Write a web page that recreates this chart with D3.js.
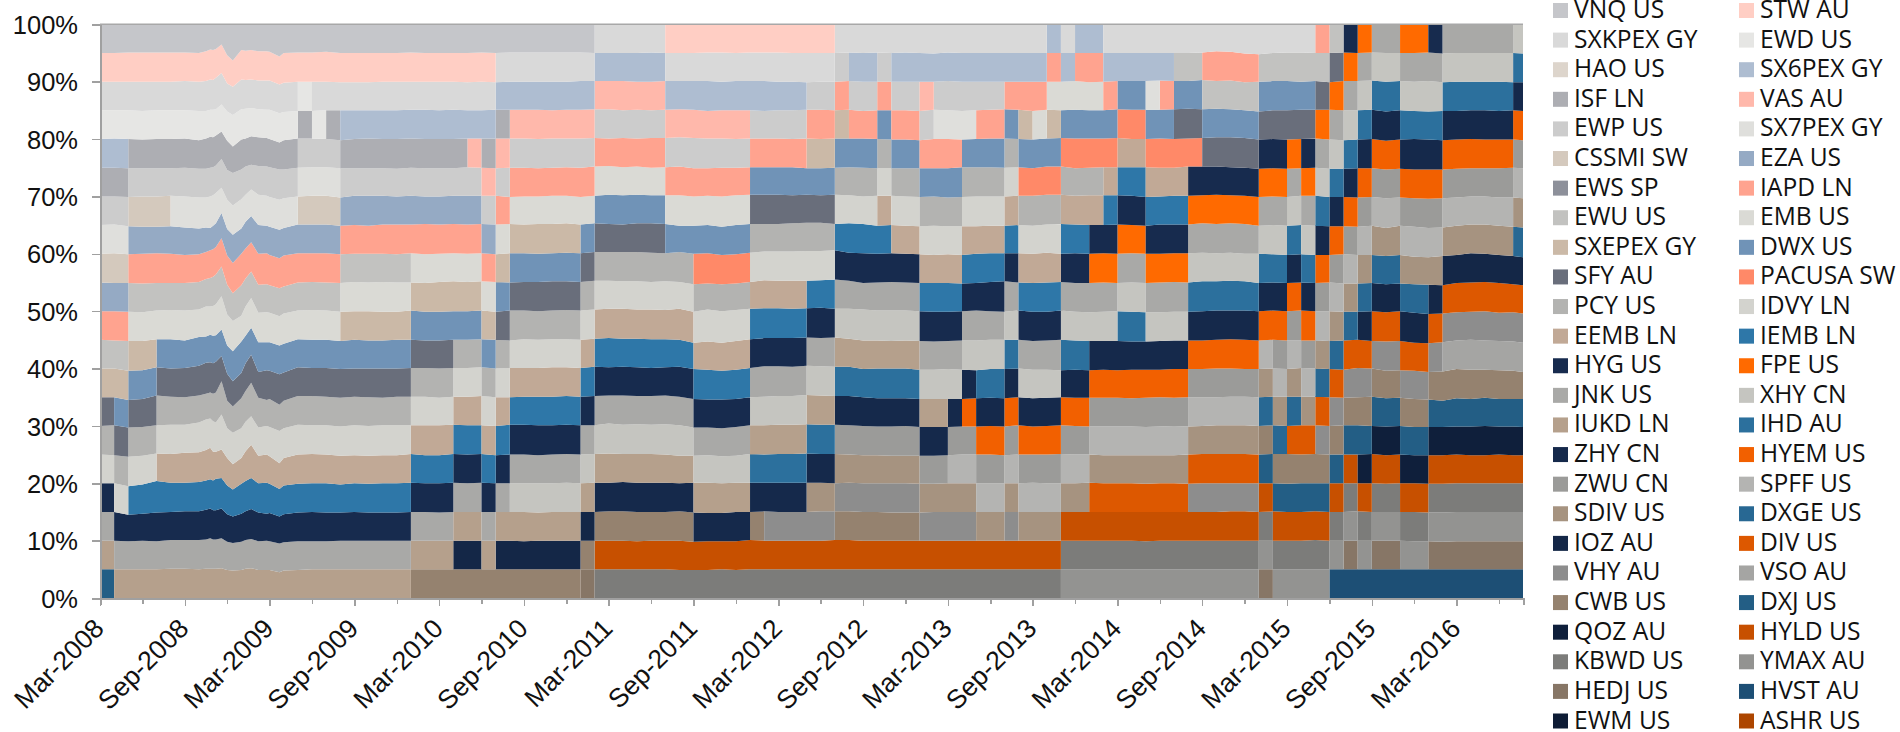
<!DOCTYPE html>
<html><head><meta charset="utf-8">
<script src="https://cdn.jsdelivr.net/npm/d3@7/dist/d3.min.js"></script>
<style>
html,body{margin:0;padding:0;background:#fff;overflow:hidden}
svg{display:block}
.ax text{font-family:"Liberation Sans",Arial,sans-serif;font-size:25.5px;fill:#111}
.ax path,.ax line{stroke:#a0a0a0;shape-rendering:crispEdges}
.lg{font-family:"Open Sans",sans-serif;font-size:24.6px;fill:#111}
</style></head><body>
<div id="c"></div>
<script>
// Legend order, read across rows; stack runs from ASHR (bottom) to VNQ (top)
const tickerNames=["VNQ US","STW AU","SXKPEX GY","EWD US","HAO US","SX6PEX GY","ISF LN","VAS AU","EWP US","SX7PEX GY","CSSMI SW","EZA US","EWS SP","IAPD LN","EWU US","EMB US","SXEPEX GY","DWX US","SFY AU","PACUSA SW","PCY US","IDVY LN","EEMB LN","IEMB LN","HYG US","FPE US","JNK US","XHY CN","IUKD LN","IHD AU","ZHY CN","HYEM US","ZWU CN","SPFF US","SDIV US","DXGE US","IOZ AU","DIV US","VHY AU","VSO AU","CWB US","DXJ US","QOZ AU","HYLD US","KBWD US","YMAX AU","HEDJ US","HVST AU","EWM US","ASHR US"];
const tickerColors=["#c5c6ca","#ffcec4","#d9d9d9","#e6e6e4","#ddd5cc","#aebdd1","#adaeb3","#ffb8ab","#cccccc","#dfdfdc","#d4c9bd","#95aac4","#8d909a","#ffa38f","#c2c2c0","#dadad5","#cbb9a7","#7093b7","#696e7b","#ff8968","#b3b3b1","#d3d3ce","#c1a996","#2e77a8","#172b4e","#ff6a00","#a9a9a7","#c5c5c0","#b5a08c","#2c709d","#15294b","#f26000","#9b9b99","#b4b4b2","#a69380","#286893","#142747","#dd5800","#8d8d8d","#a5a5a3","#95826f","#235e85","#0f1f3b","#c75000","#7c7c7a","#939391","#877666","#1d4f75","#0e1c35","#ad4600"];

// Month index (0 = Mar-2008) at which each monthly rebalance took effect
const rebalanceMonths=[0,1,2,4,5,14,15,16,17,22,25,26,27,28,29,34,35,40,42,46,47,50,52,53,55,56,58,59,60,61,62,64,65,66,67,68,69,70,71,72,74,75,76,77,78,82,83,84,85,86,87,88,89,90,92,94,95,100];
// The 20 funds held in each of those periods, top of the stack first
const holdings=[
"VNQ STW SXKPEX EWD SX6PEX ISF EWP SX7PEX CSSMI EZA IAPD EWU SXEPEX SFY PCY IDVY HYG JNK IUKD DXJ",
"VNQ STW SXKPEX EWD SX6PEX ISF EWP SX7PEX CSSMI EZA IAPD EWU SXEPEX DWX SFY PCY IDVY HYG JNK IUKD",
"VNQ STW SXKPEX EWD ISF EWP CSSMI EZA IAPD EWU EMB SXEPEX DWX SFY PCY IDVY IEMB HYG JNK IUKD",
"VNQ STW SXKPEX EWD ISF EWP CSSMI EZA IAPD EWU EMB DWX SFY PCY IDVY EEMB IEMB HYG JNK IUKD",
"VNQ STW SXKPEX EWD ISF EWP SX7PEX EZA IAPD EWU EMB DWX SFY PCY IDVY EEMB IEMB HYG JNK IUKD",
"VNQ STW EWD ISF EWP SX7PEX CSSMI EZA IAPD EWU EMB DWX SFY PCY IDVY EEMB IEMB HYG JNK IUKD",
"VNQ STW SXKPEX EWD EWP SX7PEX CSSMI EZA IAPD EWU EMB DWX SFY PCY IDVY EEMB IEMB HYG JNK IUKD",
"VNQ STW SXKPEX ISF EWP SX7PEX CSSMI EZA IAPD EWU EMB DWX SFY PCY IDVY EEMB IEMB HYG JNK IUKD",
"VNQ STW SXKPEX SX6PEX ISF EWP EZA IAPD EWU EMB SXEPEX DWX SFY PCY IDVY EEMB IEMB HYG JNK IUKD",
"VNQ STW SXKPEX SX6PEX ISF EWP EZA IAPD EMB SXEPEX DWX SFY PCY IDVY EEMB IEMB HYG JNK IUKD CWB",
"VNQ STW SXKPEX SX6PEX ISF EWP EZA IAPD EMB SXEPEX DWX PCY IDVY EEMB IEMB HYG JNK IUKD IOZ CWB",
"VNQ STW SXKPEX SX6PEX VAS EWP EZA IAPD EMB SXEPEX DWX PCY IDVY EEMB IEMB HYG JNK IUKD IOZ CWB",
"VNQ STW SXKPEX SX6PEX ISF VAS EWP EZA IAPD EMB SXEPEX DWX PCY IDVY EEMB IEMB HYG JNK IUKD CWB",
"VNQ SXKPEX SX6PEX ISF VAS EWP IAPD EMB SXEPEX DWX SFY PCY IDVY EEMB IEMB HYG JNK IUKD IOZ CWB",
"VNQ SXKPEX SX6PEX VAS EWP IAPD EMB SXEPEX DWX SFY PCY IDVY EEMB IEMB HYG JNK XHY IUKD IOZ CWB",
"VNQ SXKPEX SX6PEX VAS EWP IAPD EMB DWX SFY PCY IDVY EEMB IEMB HYG JNK XHY IUKD IOZ CWB HEDJ",
"SXKPEX SX6PEX VAS EWP IAPD EMB DWX SFY PCY IDVY EEMB IEMB HYG JNK XHY IUKD ZHY CWB HYLD KBWD",
"STW SXKPEX SX6PEX VAS EWP IAPD EMB DWX PCY IDVY EEMB IEMB HYG JNK XHY IUKD ZHY CWB HYLD KBWD",
"STW SXKPEX SX6PEX VAS EWP IAPD EMB DWX PACUSA PCY IDVY EEMB IEMB HYG JNK XHY IUKD ZHY HYLD KBWD",
"STW SXKPEX SX6PEX EWP IAPD DWX SFY PCY IDVY EEMB IEMB HYG JNK XHY IUKD IHD ZHY CWB HYLD KBWD",
"STW SXKPEX SX6PEX EWP IAPD DWX SFY PCY IDVY EEMB IEMB HYG JNK XHY IUKD IHD ZHY VHY HYLD KBWD",
"STW SXKPEX EWP IAPD SXEPEX DWX SFY PCY IDVY IEMB HYG JNK XHY IUKD IHD ZHY SDIV VHY HYLD KBWD",
"SXKPEX EWP IAPD SXEPEX DWX PCY IDVY IEMB HYG JNK XHY IUKD IHD ZHY ZWU SDIV VHY CWB HYLD KBWD",
"SXKPEX SX6PEX EWP IAPD DWX PCY IDVY IEMB HYG JNK XHY IUKD IHD ZHY ZWU SDIV VHY CWB HYLD KBWD",
"SXKPEX EWP IAPD DWX PCY IDVY EEMB IEMB HYG JNK XHY IUKD IHD ZHY ZWU SDIV VHY CWB HYLD KBWD",
"SXKPEX SX6PEX EWP IAPD DWX PCY IDVY EEMB HYG JNK XHY IUKD IHD ZHY ZWU SDIV VHY CWB HYLD KBWD",
"SXKPEX SX6PEX VAS EWP IAPD DWX PCY IDVY EEMB IEMB HYG JNK XHY IUKD ZHY ZWU SDIV VHY HYLD KBWD",
"SXKPEX SX6PEX EWP SX7PEX IAPD DWX PCY IDVY EEMB IEMB HYG JNK XHY IUKD ZHY ZWU SDIV VHY HYLD KBWD",
"SXKPEX SX6PEX EWP SX7PEX IAPD DWX PCY IDVY EEMB IEMB HYG JNK XHY ZHY ZWU SPFF SDIV VHY HYLD KBWD",
"SXKPEX SX6PEX EWP SX7PEX DWX PCY IDVY EEMB IEMB HYG JNK XHY ZHY HYEM ZWU SPFF SDIV VHY HYLD KBWD",
"SXKPEX SX6PEX EWP IAPD DWX PCY IDVY EEMB IEMB HYG JNK XHY IHD ZHY HYEM ZWU SPFF SDIV HYLD KBWD",
"SXKPEX SX6PEX IAPD DWX PCY IDVY EEMB IEMB HYG JNK XHY IHD ZHY HYEM ZWU SPFF SDIV VHY HYLD KBWD",
"SXKPEX SX6PEX IAPD SXEPEX DWX PACUSA PCY IDVY EEMB IEMB HYG JNK XHY ZHY HYEM ZWU SPFF SDIV HYLD KBWD",
"SXKPEX SX6PEX IAPD EMB DWX PACUSA PCY IDVY EEMB IEMB HYG JNK XHY ZHY HYEM ZWU SPFF SDIV HYLD KBWD",
"SX6PEX IAPD EMB SXEPEX DWX PACUSA PCY IDVY EEMB IEMB HYG JNK XHY ZHY HYEM ZWU SPFF SDIV HYLD KBWD",
"SXKPEX SX6PEX EMB DWX PACUSA PCY EEMB IEMB HYG JNK XHY IHD ZHY HYEM ZWU SPFF SDIV HYLD KBWD YMAX",
"SX6PEX IAPD EMB DWX PACUSA PCY EEMB IEMB HYG JNK XHY IHD ZHY HYEM ZWU SPFF SDIV HYLD KBWD YMAX",
"SX6PEX IAPD EMB DWX PACUSA PCY EEMB HYG FPE JNK XHY ZHY HYEM ZWU SPFF SDIV DIV HYLD KBWD YMAX",
"SXKPEX SX6PEX IAPD DWX PACUSA EEMB IEMB HYG FPE JNK XHY ZHY HYEM ZWU SPFF SDIV DIV HYLD KBWD YMAX",
"SXKPEX SX6PEX DWX PACUSA EEMB IEMB HYG FPE JNK XHY IHD ZHY HYEM ZWU SPFF SDIV DIV HYLD KBWD YMAX",
"SXKPEX SX6PEX SX7PEX DWX PACUSA EEMB IEMB HYG FPE JNK XHY ZHY HYEM ZWU SPFF SDIV DIV HYLD KBWD YMAX",
"SXKPEX SX6PEX IAPD DWX PACUSA EEMB IEMB HYG FPE JNK XHY ZHY HYEM ZWU SPFF SDIV DIV HYLD KBWD YMAX",
"SXKPEX EWU DWX SFY PACUSA EEMB IEMB HYG FPE JNK XHY ZHY HYEM ZWU SPFF SDIV DIV HYLD KBWD YMAX",
"SXKPEX EWU DWX SFY PACUSA HYG FPE JNK XHY IHD ZHY HYEM ZWU SPFF SDIV DIV VHY HYLD KBWD YMAX",
"SXKPEX IAPD EWU DWX SFY HYG FPE JNK XHY IHD ZHY HYEM ZWU SPFF SDIV DIV VHY HYLD KBWD YMAX",
"SXKPEX EWU DWX SFY HYG FPE JNK XHY IHD ZHY HYEM SPFF SDIV DXGE CWB DXJ HYLD KBWD YMAX HEDJ",
"SXKPEX EWU DWX SFY HYG FPE JNK XHY IHD ZHY HYEM ZWU SPFF SDIV DXGE CWB DXJ HYLD KBWD YMAX",
"SXKPEX EWU DWX SFY FPE JNK XHY IHD ZHY HYEM ZWU SPFF SDIV DXGE DIV CWB DXJ HYLD KBWD YMAX",
"SXKPEX EWU DWX SFY HYG FPE JNK XHY IHD ZHY HYEM ZWU SPFF SDIV DIV CWB DXJ HYLD KBWD YMAX",
"IAPD EWU SFY FPE JNK XHY IHD ZHY HYEM ZWU SPFF SDIV DXGE DIV VHY CWB DXJ HYLD KBWD YMAX",
"EWU SFY FPE JNK XHY IHD ZHY HYEM ZWU SPFF SDIV DXGE DIV VHY CWB DXJ HYLD KBWD YMAX HVST",
"HYG FPE JNK XHY IHD ZHY HYEM ZWU SPFF SDIV DXGE DIV VHY CWB DXJ HYLD KBWD YMAX HEDJ HVST",
"FPE JNK XHY IHD ZHY HYEM ZWU SPFF SDIV DXGE IOZ DIV VHY CWB DXJ QOZ HYLD KBWD YMAX HVST",
"JNK XHY IHD ZHY HYEM ZWU SPFF SDIV DXGE IOZ DIV VHY CWB DXJ QOZ HYLD KBWD YMAX HEDJ HVST",
"FPE JNK XHY IHD ZHY HYEM ZWU SPFF SDIV DXGE IOZ DIV VHY CWB DXJ QOZ HYLD KBWD YMAX HVST",
"HYG JNK XHY IHD ZHY HYEM ZWU SPFF SDIV IOZ DIV VHY CWB DXJ QOZ HYLD KBWD YMAX HEDJ HVST",
"JNK XHY IHD ZHY HYEM ZWU SPFF SDIV IOZ DIV VHY VSO CWB DXJ QOZ HYLD KBWD YMAX HEDJ HVST",
"XHY IHD ZHY HYEM ZWU SPFF SDIV DXGE IOZ DIV VHY VSO CWB DXJ QOZ HYLD KBWD YMAX HEDJ HVST"
];

const sampleMonths=[0,1,2,3,4,5,6,7,7.5,7.8,8,8.2,8.6,9,9.4,10,10.3,10.7,11.2,11.8,12,12.7,13,14,15,16,17,18,19,20,21,22,23,24,25,26,27,28,29,30,31,32,33,34,35,36,37,38,39,40,41,42,43,44,45,46,47,48,49,50,51,52,53,54,55,56,57,58,59,60,61,62,63,64,65,66,67,68,69,70,71,72,73,74,75,76,77,78,79,80,81,82,83,84,85,86,87,88,89,90,91,92,93,94,95,96,97,98,99,100,100.7];
// Shift of the 95%, 90% ... 5% band edges at those dates, in tenths of a percentage point (up is positive)
const edgeShift=[
[0,0,0,0,0,0,0,0,0,0,0,0,0,0,0,0,0,0,0],
[0,0,0,1,0,0,1,1,-1,0,-1,0,0,1,-1,0,0,0,0],
[1,0,0,0,-1,-1,-2,-1,-1,-1,-2,-4,-5,-3,-4,-5,-5,-1,0],
[1,0,-1,-1,-1,0,-3,0,-2,-2,-2,-3,-3,-2,-2,-2,-3,0,0],
[1,0,0,0,-1,0,-3,1,-1,1,1,2,3,1,2,4,-1,-1,0],
[1,0,0,0,-1,1,-2,0,-1,2,1,0,1,2,1,1,0,1,1],
[1,1,0,1,0,0,-4,-2,-1,1,-1,1,0,2,3,1,1,1,1],
[0,0,-1,-2,-2,-2,-6,-1,1,3,5,5,3,6,4,2,1,1,0],
[3,1,-1,1,-2,-2,-4,3,6,8,6,10,6,11,8,5,4,2,1],
[6,4,1,4,0,0,-5,6,8,8,9,11,8,13,12,7,6,4,1],
[5,3,1,3,1,2,-1,8,10,9,7,9,6,8,5,5,3,2,1],
[7,7,2,6,4,6,3,12,14,12,8,12,8,6,5,8,3,2,1],
[15,15,10,13,15,15,21,27,28,26,18,22,28,20,9,9,6,4,2],
[-4,-3,-2,-3,-4,-6,-7,-3,-4,-6,-10,-9,-6,-4,-6,-4,-4,-2,-1],
[-13,-9,-8,-13,-9,-16,-17,-16,-19,-17,-20,-22,-16,-12,-17,-11,-8,-4,-2],
[5,4,2,-1,-3,-5,-6,0,-5,-8,-3,-8,-2,-4,-6,-1,-3,-2,-1],
[4,3,3,1,2,3,6,9,7,8,7,9,11,7,6,4,1,1,1],
[5,4,4,5,5,12,16,20,19,23,21,24,25,17,17,9,5,3,2],
[3,2,2,3,3,3,0,0,-4,-3,-4,-6,-1,-3,-2,0,-1,-1,-1],
[3,2,1,2,2,1,-1,1,-3,-2,-4,-3,-5,0,0,1,-3,0,-1],
[2,2,1,0,1,-1,-3,-2,-5,-3,-4,-4,-3,-2,-3,-1,-2,-1,-1],
[-6,-5,-5,-6,-3,-6,-8,-8,-10,-9,-10,-10,-13,-9,-15,-10,-8,-5,-5],
[0,-2,-3,-2,-3,-3,-5,-3,-7,-4,-7,-7,-6,-4,-6,-4,-4,-3,-2],
[1,0,-1,1,0,0,1,1,0,1,1,2,2,2,0,-1,-1,-1,-1],
[1,0,-1,1,1,1,1,1,1,2,0,1,2,1,1,0,0,-1,0],
[2,0,0,0,1,1,1,1,0,1,0,1,1,1,0,0,-1,-1,0],
[0,-1,0,-2,-1,-2,-1,-1,-1,-1,-2,-1,-1,-1,-2,-2,-1,0,0],
[0,-1,0,0,-1,1,0,0,1,0,0,0,1,1,-1,0,0,0,0],
[0,-1,0,1,-1,1,-1,0,0,0,-1,0,0,0,-2,-1,-1,0,0],
[0,0,0,0,-1,1,1,0,1,-1,-1,0,-1,1,-1,0,-1,0,0],
[0,0,0,0,-2,0,1,-1,0,-1,0,0,1,1,-1,0,-1,0,0],
[1,0,1,1,0,1,1,1,0,1,0,1,1,1,1,1,0,0,0],
[0,0,1,0,-1,0,2,-1,-1,-1,-1,1,1,1,-1,0,0,0,0],
[0,0,0,0,-1,0,1,0,1,-1,-1,0,-1,1,-1,0,-1,0,0],
[0,0,1,0,-1,1,2,1,2,0,0,1,1,2,1,1,0,0,0],
[0,-1,0,1,1,1,1,0,1,0,0,1,1,1,0,0,0,0,0],
[1,0,0,1,0,1,2,1,2,1,1,2,2,1,1,1,0,0,0],
[0,-1,1,1,-1,1,1,-1,1,-1,0,0,0,0,-1,0,0,0,0],
[1,0,1,1,0,-1,2,1,0,1,-1,1,0,2,0,0,0,0,0],
[1,0,1,1,0,0,1,1,1,1,1,1,1,2,0,0,0,-1,0],
[1,0,1,0,-1,0,2,0,1,0,0,1,1,1,-1,0,-1,0,0],
[1,0,0,1,0,1,2,1,2,1,1,2,1,1,0,0,0,0,0],
[1,0,1,1,1,1,3,2,2,2,1,2,2,2,1,1,0,0,0],
[1,1,1,1,0,-1,1,1,1,1,0,1,1,1,0,0,0,0,0],
[0,1,2,2,2,1,3,3,3,3,2,3,2,1,1,1,0,0,0],
[0,1,2,1,3,3,2,3,3,4,3,2,3,4,2,1,1,0,0],
[0,1,0,2,1,2,1,3,2,4,2,3,3,2,1,2,1,0,0],
[0,0,1,1,2,3,3,3,2,3,2,2,2,3,1,1,0,-1,0],
[1,0,0,2,0,2,3,2,1,3,1,1,2,2,1,1,0,0,0],
[0,1,1,2,1,2,2,1,2,2,1,2,3,3,0,1,0,0,0],
[0,1,2,3,2,2,-1,3,1,4,0,3,1,1,-2,0,1,0,-1],
[0,1,1,2,-1,0,-1,0,-3,-1,-5,-1,-3,-3,-2,1,-1,-2,-1],
[1,1,-1,1,-1,1,0,1,-2,3,-3,-2,-4,-3,-1,1,-2,-1,-1],
[1,0,0,1,0,0,-3,-2,-3,0,-5,-4,-4,-4,-3,0,-2,-1,0],
[0,1,0,0,0,2,0,-1,-2,2,-2,-2,-3,-2,-2,1,0,-1,-1],
[1,1,0,1,1,3,2,2,1,4,1,1,0,1,1,1,0,1,0],
[1,1,-1,1,1,3,2,4,4,5,3,4,1,1,0,1,1,0,0],
[1,0,0,1,1,3,2,4,3,5,3,4,2,2,1,1,0,0,0],
[0,0,0,0,1,2,3,4,3,4,3,3,2,2,1,1,0,0,0],
[0,-1,1,1,-1,3,4,5,3,5,4,5,4,3,2,1,0,0,0],
[0,0,1,0,-1,2,4,5,4,6,3,4,3,2,1,1,1,0,0],
[0,0,0,1,0,3,2,6,5,4,4,3,2,2,1,0,1,1,0],
[1,1,1,1,1,2,3,2,3,4,2,3,2,1,0,1,1,1,0],
[0,0,-1,1,0,0,2,1,-1,3,-1,-1,0,0,-1,0,0,0,0],
[1,0,0,0,-1,1,-1,0,0,1,-1,0,-2,-1,-1,0,0,0,0],
[0,0,0,-1,-1,1,0,1,1,1,-2,0,-2,-1,-2,0,-1,0,0],
[1,0,0,-1,-1,0,-1,0,0,1,-1,0,-2,0,-2,0,-1,0,0],
[0,0,-1,-2,-1,-1,-2,-1,-1,0,-2,-2,-3,-2,-2,-1,-1,0,0],
[-1,0,1,0,-1,0,-1,-2,-1,-1,-3,-2,-3,-2,-2,-1,0,0,0],
[1,1,0,0,-1,-2,-2,-1,-1,-1,-2,-1,-3,-2,-1,0,0,0,0],
[0,0,-1,-1,1,-1,-2,-2,-2,0,-1,-2,-3,-1,0,0,0,0,0],
[0,0,0,0,1,0,-2,0,-1,1,-1,-3,-2,-1,0,0,0,0,0],
[0,0,1,1,1,0,-1,1,1,0,0,-1,-1,0,0,0,0,0,0],
[0,0,2,1,0,0,-1,1,2,-1,0,-1,-2,-1,-1,0,0,0,0],
[0,0,1,0,1,1,0,1,0,1,0,0,0,1,0,0,0,0,0],
[0,0,-1,-1,-1,1,-1,0,-1,-1,-2,-2,-2,-1,0,1,0,0,0],
[0,0,1,1,2,3,1,2,0,-1,-1,-2,-1,0,0,0,0,0,0],
[0,0,0,2,2,3,2,0,1,1,0,-3,0,1,1,0,0,0,0],
[0,1,1,1,-1,1,1,1,-1,-1,-1,-2,-1,0,0,0,0,0,0],
[0,-1,0,1,0,2,0,0,-1,-2,-2,-3,-1,-1,0,1,0,0,0],
[0,0,0,1,1,2,0,1,0,-1,-2,-2,-1,-1,-1,0,0,0,0],
[0,1,2,2,1,2,1,0,-1,0,-2,-3,-1,-1,-1,0,0,0,0],
[0,1,1,0,1,1,0,1,0,-1,-3,-2,-2,-1,-1,0,0,0,0],
[0,1,1,0,1,-1,-1,0,-1,-2,-3,-2,-1,-2,-1,-1,0,-1,0],
[0,2,1,1,0,0,1,0,0,-2,-2,-2,0,-1,-1,0,0,0,0],
[0,1,2,0,0,1,1,1,1,-1,-1,-1,-1,0,-1,0,0,0,0],
[0,1,3,1,2,1,1,1,0,-1,-1,-1,0,-1,0,-1,0,0,0],
[1,3,2,2,2,2,3,2,2,0,-1,-1,0,0,1,0,0,0,0],
[3,1,3,3,2,3,2,1,2,1,0,0,0,1,1,0,0,0,0],
[2,2,2,3,1,2,3,2,3,1,1,0,1,1,1,0,1,0,0],
[-1,-1,0,2,0,1,2,0,2,1,0,-1,1,1,1,0,1,0,0],
[-2,0,-2,-1,-2,-1,-1,0,-1,0,-1,-1,0,0,0,0,0,0,0],
[0,1,0,0,-1,0,0,-1,0,1,0,0,1,1,1,0,1,0,0],
[1,1,0,-1,-2,-1,-1,-2,-1,0,-1,-1,1,0,1,-1,0,0,0],
[1,0,1,0,-1,1,0,-1,0,1,-1,1,1,1,0,0,0,0,0],
[0,1,1,1,0,1,-1,-2,-1,0,-1,0,1,1,1,0,1,1,0],
[0,-1,1,-1,-2,-1,-2,-2,0,0,-2,-1,0,0,0,0,0,0,0],
[1,1,0,-2,-2,-1,-2,-1,-2,-1,-1,-2,-1,1,0,0,0,0,0],
[0,1,0,-1,-1,-2,-3,-2,-2,-1,0,1,0,1,0,0,1,0,0],
[1,2,1,0,-1,-1,-1,-2,-1,0,-2,0,1,0,1,0,0,0,0],
[0,0,-2,-3,-3,-3,-5,-4,-3,-2,-3,-4,-2,-1,-1,-1,0,0,0],
[0,1,0,-1,-2,-2,-1,-2,-2,0,-2,-3,-1,0,0,0,0,0,0],
[0,0,-1,0,-3,-3,-3,-5,-3,-3,-5,-4,-3,-2,-1,0,0,-1,0],
[1,1,-2,-1,-3,-4,-5,-6,-4,-5,-6,-6,-4,-2,-1,-1,-1,-1,0],
[-1,-1,-1,-2,-3,-3,-4,-4,-5,-4,-4,-5,-6,-2,-1,-1,-1,-2,0],
[0,0,-1,-1,-2,-2,-1,-2,-1,-2,-1,-1,-2,-1,0,0,0,-1,0],
[0,0,0,0,-1,0,1,1,0,-1,0,-2,-3,-1,-1,0,0,-1,0],
[0,0,0,-1,-1,0,1,0,1,0,-1,-2,-1,0,-1,0,0,-1,0],
[0,0,-1,-1,-1,-2,-1,-2,-1,-3,-2,-3,-3,-1,0,0,0,-1,0],
[0,-1,0,-1,0,-2,-3,-4,-3,-2,-3,-4,-3,-1,-1,0,0,-1,0],
[-1,-1,-1,-2,-1,-3,-4,-6,-5,-4,-5,-6,-3,-2,-1,0,0,-1,0],
[-2,-1,-1,-2,-3,-4,-5,-7,-7,-5,-4,-6,-4,-2,-1,-1,0,-1,0],
[-1,-1,0,-1,-2,-3,-3,-3,-2,-4,-3,-3,-1,-1,0,0,0,0,0]
];

const keys=tickerNames.map(n=>n.split(" ")[0]);
const held=holdings.map(h=>h.split(" "));
const endMonth=sampleMonths[sampleMonths.length-1];

// One table row per sampled date and period, so a rebalance is a vertical step
const table=[];
rebalanceMonths.forEach((start,p)=>{
  const stop=p+1<rebalanceMonths.length?rebalanceMonths[p+1]:endMonth;
  sampleMonths.forEach((m,s)=>{
    if(m<start||m>stop)return;
    const row={month:m};
    keys.forEach(k=>row[k]=0);
    let above=100;
    held[p].forEach((k,i)=>{
      const edge=i<19?95-5*i+edgeShift[s][i]/10:0;
      row[k]=above-edge; above=edge;
    });
    table.push(row);
  });
});

const W=1900,H=732;
const x=d3.scaleLinear().domain([0,endMonth]).range([100,1523]);
const y=d3.scaleLinear().domain([0,1]).range([598,24.3]);
const stack=d3.stack().keys(keys.slice().reverse()).offset(d3.stackOffsetExpand)(table);
const area=d3.area().x(d=>x(d.data.month)).y0(d=>y(d[0])).y1(d=>y(d[1]));
const colorOf=d3.scaleOrdinal().domain(keys).range(tickerColors);

const svg=d3.select("#c").append("svg").attr("width",W).attr("height",H);
svg.append("g").selectAll("path").data(stack).join("path")
  .attr("d",area).attr("fill",d=>colorOf(d.key));

// Axes
const yAxis=d3.axisLeft(y).tickValues(d3.range(0,1.01,0.1)).tickFormat(d3.format(".0%")).tickSize(8).tickPadding(14);
const yg=svg.append("g").attr("class","ax").attr("transform","translate(100,0)").call(yAxis);
yg.select(".domain").attr("stroke-width",2);
yg.selectAll("line").attr("stroke-width",1.5);
yg.selectAll("text").attr("dy","0.36em");
svg.append("line").attr("x1",x(0)).attr("x2",x(endMonth)).attr("y1",y(1)).attr("y2",y(1)).attr("stroke","#a8a8a8").attr("stroke-width",1.5);

const monthLabel=d3.timeFormat("%b-%Y");
const xAxis=d3.axisBottom(x).tickValues(d3.range(0,101,3))
  .tickFormat(m=>m%6===0?monthLabel(new Date(2008,2+m,1)):"").tickSizeOuter(0).tickSize(7);
const xg=svg.append("g").attr("class","ax").attr("transform","translate(0,598)").call(xAxis);
xg.select(".domain").attr("stroke-width",2);
xg.selectAll("line").attr("stroke-width",1.5).attr("y2",d=>d%6===0?8:6);
xg.selectAll("text").attr("text-anchor","end").attr("y",0).attr("dy",0).style("font-size","26.5px")
  .attr("transform","translate(5,32) rotate(-45)");

// Legend: two columns, top to bottom, same order read across
const rows=d3.scaleLinear().domain([0,24]).range([10.5,721]);
const lg=svg.append("g").selectAll("g").data(tickerNames).join("g")
  .attr("transform",(d,i)=>`translate(${i%2?1739:1553},${rows(Math.floor(i/2))})`);
lg.append("rect").attr("x",0).attr("y",-7.5).attr("width",15).attr("height",15).attr("fill",(d,i)=>tickerColors[i]);
lg.append("text").attr("class","lg").attr("x",21).attr("y",7.5).text(d=>d);
</script>
</body></html>
